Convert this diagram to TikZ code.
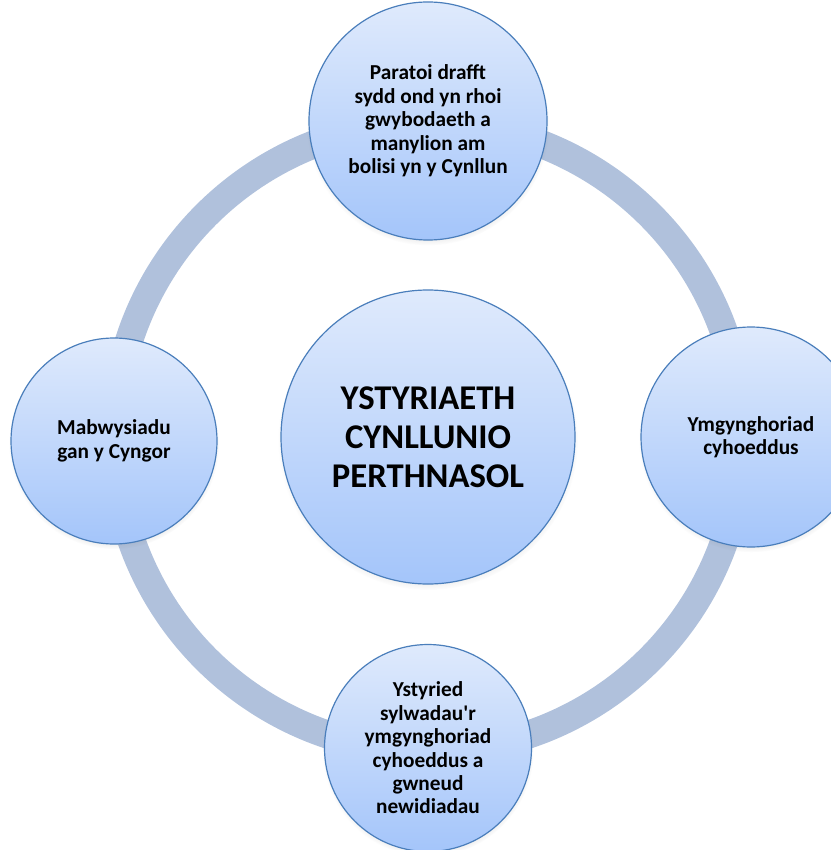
\documentclass[tikz,border=0pt]{standalone}
\usepackage{fontspec}
\setmainfont{Carlito}
\usepackage{xcolor}
\usetikzlibrary{shadows}
\definecolor{ringblue}{RGB}{176,193,220}
\definecolor{circtop}{RGB}{223,234,252}
\definecolor{circbot}{RGB}{164,197,250}
\definecolor{circedge}{RGB}{74,126,187}

\begin{document}
\begin{tikzpicture}[x=1pt,y=-1pt,
    stage/.style={circle,draw=circedge,line width=1.2pt,
      top color=circtop,bottom color=circbot,
      circular drop shadow={shadow xshift=0pt,shadow yshift=-3pt,shadow scale=1.02,opacity=0.35},
      align=center,inner sep=0pt,
      font=\fontsize{21.3}{23.4}\selectfont\bfseries},
    ringline/.style={draw=ringblue,line width=28pt}]
  \useasboundingbox (0,0) rectangle (830,850);

  % centre and ring
  \coordinate (hubpt) at (428,437);
  \draw[ringline] (hubpt) circle[radius=314pt];

  \node[stage,minimum size=238pt] (draft) at (428,121)
    {Paratoi drafft\\sydd ond yn rhoi\\gwybodaeth a\\manylion am\\bolisi yn y Cynllun};
  \node[stage,minimum size=220pt] (consult) at (751,437)
    {Ymgynghoriad\\cyhoeddus};
  \node[stage,minimum size=207pt] (review) at (428,748)
    {Ystyried\\sylwadau\textquotesingle r\\ymgynghoriad\\cyhoeddus a\\gwneud\\newidiadau};
  \node[stage,minimum size=206pt] (adopt) at (114,441)
    {Mabwysiadu\\gan y Cyngor};

  \node[stage,minimum size=294pt,font=\fontsize{34.7}{39}\selectfont\bfseries] (hub) at (hubpt)
    {YSTYRIAETH\\CYNLLUNIO\\PERTHNASOL};
\end{tikzpicture}
\end{document}
